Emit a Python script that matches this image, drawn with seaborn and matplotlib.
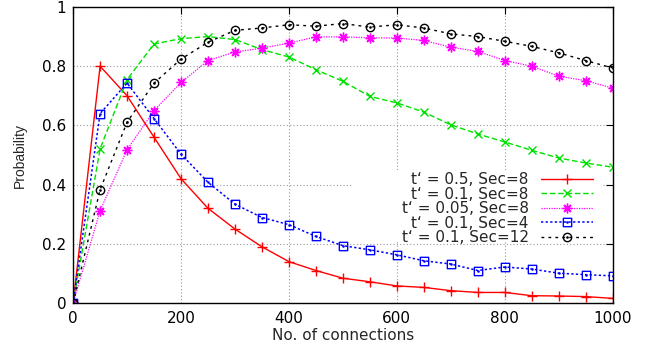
import numpy as np
import pandas as pd
import matplotlib
matplotlib.use("Agg")
import matplotlib.pyplot as plt
import seaborn as sns
from matplotlib.path import Path
from matplotlib.patches import Rectangle
from matplotlib.transforms import Affine2D
from matplotlib.ticker import FuncFormatter

connections = [0, 50, 100, 150, 200, 250, 300, 350, 400, 450, 500,
               550, 600, 650, 700, 750, 800, 850, 900, 950, 1000]

p_t05_sec8 = [0.0, 0.80, 0.70, 0.56, 0.42, 0.32, 0.25, 0.19, 0.14, 0.11, 0.084,
              0.072, 0.058, 0.053, 0.042, 0.036, 0.036, 0.025, 0.024, 0.022, 0.016]
p_t01_sec8 = [0.0, 0.521, 0.755, 0.875, 0.893, 0.90, 0.89, 0.856, 0.831, 0.788, 0.749,
              0.698, 0.676, 0.645, 0.602, 0.571, 0.544, 0.516, 0.49, 0.473, 0.459]
p_t005_sec8 = [0.0, 0.312, 0.518, 0.65, 0.745, 0.819, 0.848, 0.861, 0.878, 0.899, 0.899,
               0.896, 0.895, 0.887, 0.864, 0.85, 0.819, 0.80, 0.766, 0.751, 0.726]
p_t01_sec4 = [0.0, 0.64, 0.743, 0.623, 0.503, 0.408, 0.334, 0.289, 0.265, 0.225, 0.194,
              0.18, 0.163, 0.143, 0.132, 0.11, 0.122, 0.115, 0.101, 0.096, 0.092]
p_t01_sec12 = [0.0, 0.383, 0.611, 0.743, 0.824, 0.881, 0.921, 0.929, 0.94, 0.935, 0.944,
               0.932, 0.94, 0.929, 0.909, 0.90, 0.884, 0.867, 0.845, 0.819, 0.794]

labels = ["t\u2018 = 0.5, Sec=8", "t\u2018 = 0.1, Sec=8", "t\u2018 = 0.05, Sec=8",
          "t\u2018 = 0.1, Sec=4", "t\u2018 = 0.1, Sec=12"]
series = [p_t05_sec8, p_t01_sec8, p_t005_sec8, p_t01_sec4, p_t01_sec12]

x_ticks = [0, 200, 400, 600, 800, 1000]
y_ticks = [0, 0.2, 0.4, 0.6, 0.8, 1.0]

sns.set_theme(style="white")
plt.rcParams['font.family'] = ['DejaVu Sans']

sq = Path.unit_rectangle().transformed(Affine2D().translate(-0.5, -0.5))
sq_dot = Path.make_compound_path(sq, Path.circle((0, 0), 0.07))
circ_dot = Path.make_compound_path(Path.unit_circle(), Path.circle((0, 0), 0.15))

styles = [
    dict(color="#ff0000", marker="+", linestyle="-", markersize=7, lw=1.0),
    dict(color="#00e000", marker="x", linestyle=(0, (4, 2)), markersize=5.5, lw=1.0),
    dict(color="#ff00ff", marker=(8, 2, 0), linestyle=(0, (1, 1)), markersize=7, lw=0.9),
    dict(color="#0000ff", marker=sq_dot, linestyle=(0, (1.5, 1.5)), markersize=6, lw=1.1,
         fillstyle="none"),
    dict(color="#000000", marker=circ_dot, linestyle=(0, (2, 3)), markersize=6, lw=1.0,
         fillstyle="none"),
]

fig = plt.figure(figsize=(6.47, 3.48), dpi=100)
ax = fig.add_axes([0.113, 0.129, 0.834, 0.851])

for lab, vals, st in zip(labels, series, styles):
    df = pd.DataFrame({"x": connections, "y": vals})
    st = dict(st)
    color = st.pop("color")
    sns.lineplot(data=df, x="x", y="y", ax=ax, color=color, label=lab,
                 markeredgewidth=1.0, markeredgecolor=color, **st)

ax.set_xlim(0, 1000)
ax.set_ylim(0, 1)
ax.set_xticks(x_ticks)
ax.set_yticks(y_ticks)
ax.yaxis.set_major_formatter(FuncFormatter(lambda v, p: "%g" % v))
ax.tick_params(direction="in", length=5, width=0.8, top=True, right=True,
               labelsize=11, colors="black", pad=5)
ax.tick_params(axis="x", pad=6)
ax.grid(True, color="#999999", linestyle=(0, (1, 2)), linewidth=0.8)
for s in ax.spines.values():
    s.set_color("black")
    s.set_linewidth(1.0)
ax.set_xlabel("No. of connections", fontsize=11, labelpad=1)
ax.set_ylabel("Probability", fontsize=10, labelpad=11, family=["Liberation Sans", "DejaVu Sans"])

# white key box hiding the grid behind the legend
ax.add_patch(Rectangle((0.519, 0.206), 0.46, 0.243, transform=ax.transAxes,
                       facecolor="white", edgecolor="none", zorder=1))

leg = ax.legend(loc="center right", bbox_to_anchor=(0.963, 0.319), markerfirst=False,
                fontsize=11, frameon=False, labelspacing=-0.04, handlelength=3.4,
                handletextpad=0.8, borderpad=0, borderaxespad=0)

fig.savefig("out.png", dpi=100)
